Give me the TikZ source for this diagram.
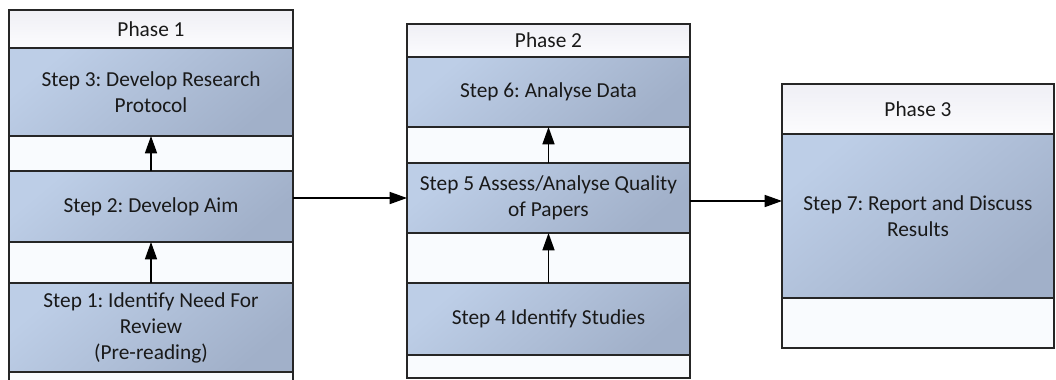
\documentclass[tikz,border=0pt]{standalone}
\usepackage{fontspec}
\setmainfont{Carlito}
\usetikzlibrary{arrows.meta}
\frenchspacing

\definecolor{steplight}{HTML}{BDCEE7}
\definecolor{stepdark}{HTML}{A1B0C9}
\definecolor{headtop}{HTML}{EFEFF5}
\definecolor{headbot}{HTML}{FCFCFE}
\definecolor{gapfill}{HTML}{F9FBFE}

\tikzset{
  dims/.style 2 args={minimum width=#1*0.75pt, minimum height=#2*0.75pt},
  phasecol/.style={draw=black!85, line width=0.9pt, fill=gapfill, inner sep=0pt, outer sep=0pt},
  phasehead/.style={draw=black!85, line width=0.9pt, top color=headtop, bottom color=headbot, inner sep=0pt, outer sep=0pt},
  stepbox/.style={draw=black!85, line width=0.9pt, top color=steplight, bottom color=stepdark, shading angle=40, inner sep=0pt, outer sep=0pt, align=center},
  link/.style={line width=1.2pt, -{Triangle[length=13pt,width=9pt]}}
}

\begin{document}
\begin{tikzpicture}[x=0.75pt, y=-0.75pt, font=\fontsize{16}{19.5}\selectfont, text=black!90]
        \useasboundingbox (0,0) rectangle (1056,379);
        \clip (0,0) rectangle (1056,379);

        % phase 1
        \node[phasecol, dims={284}{376}] (p1) at (151, 198) {};
        \node[phasehead, dims={284}{38}] (h1) at (151, 29) {Phase 1};
        \node[stepbox, dims={284}{88}] (s3) at (151, 92) {Step 3: Develop Research\\Protocol};
        \node[stepbox, dims={284}{71}] (s2) at (151, 206.5) {Step 2: Develop Aim};
        \node[stepbox, dims={284}{89}] (s1) at (151, 327.5) {Step 1: Identify Need For\\Review\\(Pre-reading)};

        % phase 2
        \node[phasecol, dims={283}{354}] (p2) at (548.5, 201) {};
        \node[phasehead, dims={283}{33}] (h2) at (548.5, 40.5) {Phase 2};
        \node[stepbox, dims={283}{70}] (s6) at (548.5, 92) {Step 6: Analyse Data};
        \node[stepbox, dims={283}{70}] (s5) at (548.5, 198) {Step 5 Assess/Analyse Quality\\of Papers};
        \node[stepbox, dims={283}{72}] (s4) at (548.5, 319) {Step 4 Identify Studies};

        % phase 3
        \node[phasecol, dims={272}{264}] (p3) at (918, 216) {};
        \node[phasehead, dims={272}{50}] (h3) at (918, 109) {Phase 3};
        \node[stepbox, dims={272}{164}] (s7) at (918, 216) {Step 7: Report and Discuss\\Results};

        \draw[link] (s1) -- (s2);
        \draw[link] (s2) -- (s3);
        \draw[link] (s4) -- (s5);
        \draw[link] (s5) -- (s6);

        \draw[link] (p1.east) -- (p1.east -| p2.west);
        \draw[link] (p2.east) -- (p2.east -| p3.west);

    \end{tikzpicture}
\end{document}
